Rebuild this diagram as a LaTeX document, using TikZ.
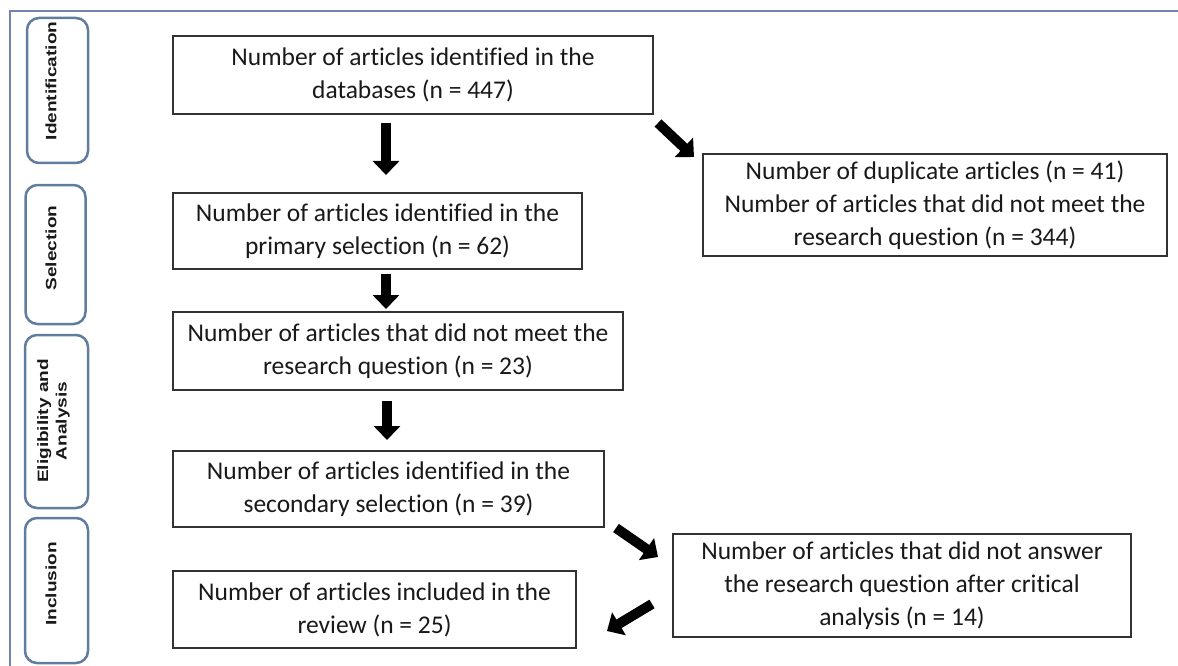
\documentclass[tikz,border=0pt]{standalone}
\usepackage{fontspec}
\setmainfont{Carlito}[Ligatures={NoCommon,NoContextual}]
\newfontfamily\sidefont{Liberation Sans}
\usetikzlibrary{arrows.meta}
\definecolor{framecol}{RGB}{115,130,174}
\definecolor{sidecol}{RGB}{96,125,158}
\definecolor{boxcol}{RGB}{50,50,50}
\definecolor{txt}{RGB}{25,25,25}
\begin{document}
\begin{tikzpicture}[x=1pt,y=-1pt,
  flowbox/.style={draw=boxcol,line width=2pt,align=center,text=txt,font=\fontsize{25.5}{33}\selectfont,inner sep=0pt},
  sidebox/.style={draw=sidecol,line width=2.5pt,rounded corners=12pt,inner sep=0pt},
  sidetext/.style={rotate=90,text=txt,font=\sidefont\bfseries\fontsize{15}{18.5}\selectfont,align=center,inner sep=0pt},
  bigarrow/.style={line width=10pt,-{Triangle[width=26pt,length=14pt]},black}]
\useasboundingbox (0,0) rectangle (1178,666);
\fill[white] (0,0) rectangle (1178,666);
% frame
\coordinate (fr1) at (10,666);
\coordinate (fr2) at (10,11);
\coordinate (fr3) at (1178,11);
\draw[framecol,line width=2.5pt] (fr1) -- (fr2) -- (fr3);
% side boxes
\node[sidebox,minimum width=61pt,minimum height=145pt] (sid) at (57.5,90.5) {};
\node[sidebox,minimum width=60pt,minimum height=139pt] (ssel) at (55.5,254.5) {};
\node[sidebox,minimum width=63pt,minimum height=173pt] (selig) at (56.5,421.5) {};
\node[sidebox,minimum width=63pt,minimum height=145pt] (sinc) at (56.5,590.5) {};
\node[sidetext] (tid) at (51,81) {\scalebox{1.27}[1]{Identification}};
\node[sidetext] (tsel) at (51,248) {\scalebox{1.27}[1]{Selection}};
\node[sidetext] (telig) at (53.5,421) {\scalebox{1.27}[1]{Eligibility and}\\\scalebox{1.27}[1]{Analysis}};
\node[sidetext] (tinc) at (51,584) {\scalebox{1.27}[1]{Inclusion}};
% flow boxes
\node[flowbox,minimum width=480pt,minimum height=78pt] (A) at (413,75) {Number of articles identified in the\\databases (n = 447)};
\node[flowbox,minimum width=464pt,minimum height=102pt] (B) at (935,205) {Number of duplicate articles (n = 41)\\Number of articles that did not meet the\\research question (n = 344)};
\node[flowbox,minimum width=409pt,minimum height=76pt] (C) at (377.5,231) {Number of articles identified in the\\primary selection (n = 62)};
\node[flowbox,minimum width=450pt,minimum height=78pt] (D) at (398,351) {Number of articles that did not meet the\\research question (n = 23)};
\node[flowbox,minimum width=431pt,minimum height=76pt] (E) at (388.5,489) {Number of articles identified in the\\secondary selection (n = 39)};
\node[flowbox,minimum width=458pt,minimum height=103pt] (F) at (902,585.5) {Number of articles that did not answer\\the research question after critical\\analysis (n = 14)};
\node[flowbox,minimum width=403pt,minimum height=77pt] (G) at (374.5,609.5) {Number of articles included in the\\review (n = 25)};
% arrows
\coordinate (ac1) at (386,123); \coordinate (ac2) at (386,175);
\coordinate (ab1) at (658,123); \coordinate (ab2) at (694,157);
\coordinate (cd1) at (386,274); \coordinate (cd2) at (386,309);
\coordinate (de1) at (387,401); \coordinate (de2) at (387,440);
\coordinate (ef1) at (616,528); \coordinate (ef2) at (658,557);
\coordinate (fg1) at (652,604); \coordinate (fg2) at (607,631);
\draw[bigarrow] (ac1) -- (ac2);
\draw[bigarrow] (ab1) -- (ab2);
\draw[bigarrow] (cd1) -- (cd2);
\draw[bigarrow] (de1) -- (de2);
\draw[bigarrow] (ef1) -- (ef2);
\draw[bigarrow] (fg1) -- (fg2);
\end{tikzpicture}
\end{document}
